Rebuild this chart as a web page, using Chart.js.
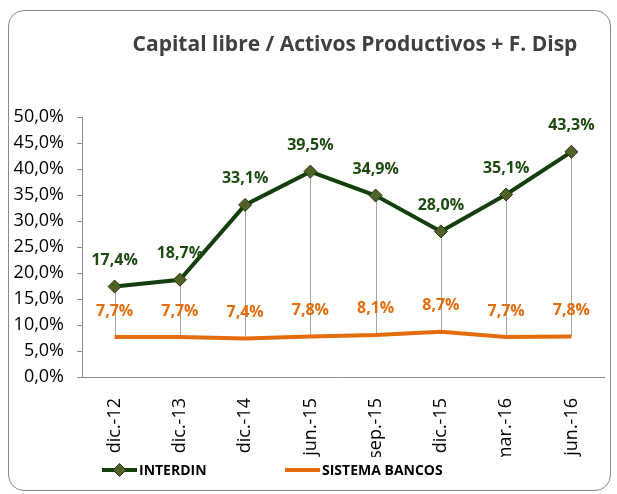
<!DOCTYPE html>
<html lang="es">
<head>
<meta charset="UTF-8" />
<title>Capital libre / Activos Productivos + F. Disp</title>
<script src="https://cdn.jsdelivr.net/npm/chart.js@4"></script>
<style>
  body { margin: 0; background: #fff; }
  #wrap { position: relative; width: 617px; height: 494px; }
  #frame {
    position: absolute; left: 8px; top: 10px; width: 603px; height: 481px;
    border: 1.5px solid #8a8a8a; border-radius: 16px; box-sizing: border-box;
    pointer-events: none;
  }
  canvas { position: absolute; left: 0; top: 0; }
</style>
</head>
<body>
<div id="wrap">
  <div id="frame"></div>
  <canvas id="myChart" width="617" height="494"></canvas>
</div>
<script>
// values, in percent
const periods = ['dic.-12', 'dic.-13', 'dic.-14', 'jun.-15', 'sep.-15', 'dic.-15', 'mar.-16', 'jun.-16'];
const interdin = [17.4, 18.7, 33.1, 39.5, 34.9, 28.0, 35.1, 43.3];
const sistemaBancos = [7.7, 7.7, 7.4, 7.8, 8.1, 8.7, 7.7, 7.8];

const FONT = "'Open Sans', 'Noto Sans', sans-serif";
const fmt = v => v.toFixed(1).replace('.', ',') + '%';

// the excel title sits a bit right of the plot centre
const titleShift = {
  id: 'titleShift',
  afterLayout(chart) {
    chart.titleBlock.left += 24;
  }
};

// thin grey lines from each INTERDIN point down to the bank system line
const dropLines = {
  id: 'dropLines',
  beforeDatasetsDraw(chart) {
    const ctx = chart.ctx;
    const y = chart.scales.y;
    const x = chart.scales.x;
    ctx.save();
    ctx.strokeStyle = '#a6a6a6';
    ctx.lineWidth = 1;
    interdin.forEach((v, i) => {
      const px = Math.round(x.getPixelForValue(i)) + 0.5;
      ctx.beginPath();
      ctx.moveTo(px, y.getPixelForValue(v));
      ctx.lineTo(px, y.getPixelForValue(sistemaBancos[i]));
      ctx.stroke();
    });
    ctx.restore();
  }
};

// value labels above the points
const valueLabels = {
  id: 'valueLabels',
  afterDatasetsDraw(chart) {
    const ctx = chart.ctx;
    ctx.save();
    ctx.font = 'bold 16px ' + FONT;
    ctx.textAlign = 'center';
    ctx.textBaseline = 'middle';
    chart.data.datasets.forEach((ds, di) => {
      ctx.fillStyle = ds.labelColor;
      chart.getDatasetMeta(di).data.forEach((pt, i) => {
        ctx.fillText(fmt(ds.data[i]), pt.x, pt.y - 26);
      });
    });
    ctx.restore();
  }
};

// legend in the bottom strip: line sample (with marker for INTERDIN) + name
const bottomLegend = {
  id: 'bottomLegend',
  afterDraw(chart) {
    const ctx = chart.ctx;
    const starts = [102, 285];
    const y = 470;
    ctx.save();
    ctx.font = 'bold 14px ' + FONT;
    ctx.textBaseline = 'middle';
    ctx.textAlign = 'left';
    chart.data.datasets.forEach((ds, i) => {
      const x0 = starts[i];
      ctx.strokeStyle = ds.borderColor;
      ctx.lineWidth = 4;
      ctx.beginPath();
      ctx.moveTo(x0, y);
      ctx.lineTo(x0 + 35, y);
      ctx.stroke();
      if (ds.pointRadius > 0) {
        const cx = x0 + 17.5, r = ds.pointRadius;
        ctx.beginPath();
        ctx.moveTo(cx - r, y);
        ctx.lineTo(cx, y - r);
        ctx.lineTo(cx + r, y);
        ctx.lineTo(cx, y + r);
        ctx.closePath();
        ctx.fillStyle = ds.pointBackgroundColor;
        ctx.strokeStyle = ds.pointBorderColor;
        ctx.lineWidth = 1;
        ctx.fill();
        ctx.stroke();
      }
      ctx.fillStyle = '#000';
      ctx.fillText(ds.label, x0 + 37, y + 1);
    });
    ctx.restore();
  }
};

const ctx = document.getElementById('myChart').getContext('2d');
new Chart(ctx, {
  type: 'line',
  data: {
    labels: periods,
    datasets: [
      {
        label: 'INTERDIN',
        data: interdin,
        borderColor: '#123f0c',
        backgroundColor: '#123f0c',
        borderWidth: 4,
        pointStyle: 'rectRot',
        pointRadius: 6.5,
        pointHoverRadius: 6.5,
        pointBackgroundColor: '#4f6228',
        pointBorderColor: '#26340f',
        pointBorderWidth: 1,
        labelColor: '#1d4a10',
        tension: 0
      },
      {
        label: 'SISTEMA BANCOS',
        data: sistemaBancos,
        borderColor: '#e46c0a',
        backgroundColor: '#e46c0a',
        borderWidth: 4,
        pointRadius: 0,
        labelColor: '#e46c0a',
        tension: 0
      }
    ]
  },
  options: {
    responsive: false,
    animation: false,
    layout: { padding: { left: 8, right: 13, top: 0, bottom: 37 } },
    plugins: {
      title: {
        display: true,
        text: 'Capital libre / Activos Productivos + F. Disp',
        fullSize: false,
        color: '#404040',
        font: { family: FONT, size: 21, weight: 'bold' },
        padding: { top: 32.4, bottom: 59.4 }
      },
      legend: { display: false },
      tooltip: { enabled: false }
    },
    scales: {
      x: {
        offset: true,
        grid: { display: false },
        border: { color: '#8c8c8c', width: 1 },
        ticks: {
          minRotation: 90,
          maxRotation: 90,
          autoSkip: false,
          padding: 13,
          color: '#000',
          font: { family: FONT, size: 18 }
        },
        afterFit(scale) { scale.height = 80; }
      },
      y: {
        min: 0,
        max: 50,
        grid: { drawOnChartArea: false, tickLength: 5, color: '#8c8c8c' },
        border: { color: '#8c8c8c', width: 1 },
        ticks: {
          stepSize: 5,
          padding: 13,
          color: '#000',
          font: { family: FONT, size: 18 },
          callback: v => fmt(v)
        },
        afterFit(scale) { scale.width = 74; }
      }
    }
  },
  plugins: [titleShift, dropLines, valueLabels, bottomLegend]
});
</script>
</body>
</html>
